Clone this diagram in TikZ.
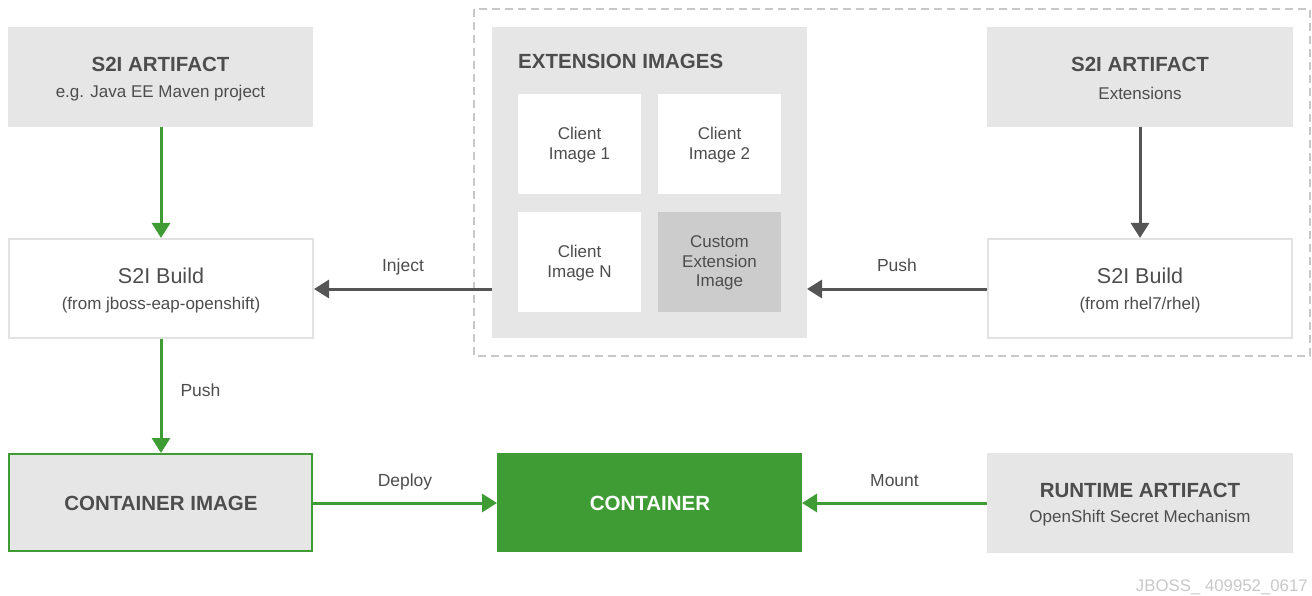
\documentclass[tikz,border=0pt]{standalone}
\usepackage{fontspec}
\setmainfont{Liberation Sans}
\usetikzlibrary{arrows.meta}
\definecolor{rhgreen}{HTML}{3F9C35}
\definecolor{boxgrey}{HTML}{E6E6E6}
\definecolor{edgegrey}{HTML}{E2E2E2}
\definecolor{txtgrey}{HTML}{4D4D4D}
\definecolor{arrgrey}{HTML}{555555}
\definecolor{customgrey}{HTML}{CCCCCC}
\definecolor{dashgrey}{HTML}{C8C8C8}
\tikzset{
  x=1pt, y=-1pt,
  every node/.style={text=txtgrey, font=\fontsize{17}{19.5}\selectfont, align=center, inner sep=0pt},
  greybox/.style={fill=boxgrey},
  whitebox/.style={fill=white, draw=edgegrey, line width=2pt},
  title/.style={font=\bfseries\fontsize{20.5}{24}\selectfont},
  buildt/.style={font=\fontsize{21.5}{25}\selectfont},
  garrow/.style={draw=rhgreen, line width=3pt, -{Triangle[width=18pt,length=15pt]}},
  darrow/.style={draw=arrgrey, line width=3pt, -{Triangle[width=18pt,length=15pt]}},
  lbl/.style={font=\fontsize{17.5}{20}\selectfont, anchor=base},
}
\begin{document}
\begin{tikzpicture}
\useasboundingbox (0,0) rectangle (1312,596);
% dashed group
\draw[dashgrey, line width=2pt, dash pattern=on 8pt off 5pt] (474,9) rectangle (1310,356);
% boxes
\fill[greybox] (8,27) rectangle (313,127);
\node[title] (a1t) at (160.5,64) {S2I ARTIFACT};
\node (a1s) at (160.5,93) {e.g. Java EE Maven project};
\coordinate (a1b) at (161,127);

\draw[whitebox] (9,239) rectangle (313,338);
\node[buildt] (b1t) at (161,276) {S2I Build};
\node (b1s) at (161,305) {(from jboss-eap-openshift)};
\coordinate (b1top) at (161,238);
\coordinate (b1bot) at (161,339);
\coordinate (b1r) at (314,289);

\draw[fill=boxgrey, draw=rhgreen, line width=2pt] (9,454) rectangle (312,551);
\node[title] (ci) at (161,503) {CONTAINER IMAGE};
\coordinate (cit) at (161,453);
\coordinate (cir) at (313,503);

\fill[rhgreen] (497,453) rectangle (802,552);
\node[title, text=white] (ct) at (650,503) {CONTAINER};
\coordinate (ctl) at (497,503);
\coordinate (ctr) at (802,503);

\fill[greybox] (987,453) rectangle (1293,553);
\node[title] (rt) at (1140,490) {RUNTIME ARTIFACT};
\node (rs) at (1140,518) {OpenShift Secret Mechanism};
\coordinate (rl) at (987,503);

\fill[greybox] (987,27) rectangle (1293,127);
\node[title] (a2t) at (1140,64) {S2I ARTIFACT};
\node (a2s) at (1140,93) {Extensions};
\coordinate (a2b) at (1140,127);

\draw[whitebox] (988,239) rectangle (1292,338);
\node[buildt] (b2t) at (1140,276) {S2I Build};
\node (b2s) at (1140,305) {(from rhel7/rhel)};
\coordinate (b2top) at (1140,238);
\coordinate (b2l) at (987,289);

% extension images
\fill[greybox] (492,27) rectangle (807,338);
\node[title, anchor=west] (et) at (518,61) {EXTENSION IMAGES};
\coordinate (el) at (492,289);
\coordinate (er) at (807,289);
\fill[white] (518,94) rectangle (641,194);
\node (c1) at (579.5,145) {Client\\Image 1};
\fill[white] (658,94) rectangle (781,194);
\node (c2) at (719.5,145) {Client\\Image 2};
\fill[white] (518,212) rectangle (641,312);
\node (cn) at (579.5,263) {Client\\Image N};
\fill[customgrey] (658,212) rectangle (781,312);
\node (cx) at (719.5,263) {Custom\\Extension\\Image};

% arrows
\draw[garrow] (a1b) -- (b1top);
\draw[garrow] (b1bot) -- (cit) node[lbl, pos=0.45, anchor=west, xshift=18pt] (pushl) {Push};
\draw[garrow] (cir) -- (ctl) node[lbl, midway, yshift=17pt] (dep) {Deploy};
\draw[garrow] (rl) -- (ctr) node[lbl, midway, yshift=17pt] (mnt) {Mount};
\draw[darrow] (el) -- (b1r) node[lbl, midway, yshift=17pt] (inj) {Inject};
\draw[darrow] (b2l) -- (er) node[lbl, midway, yshift=17pt] (push2) {Push};
\draw[darrow] (a2b) -- (b2top);

\node[anchor=east, text=dashgrey, font=\fontsize{16.8}{20}\selectfont] (wm) at (1308,587) {JBOSS\_ 409952\_0617};
\end{tikzpicture}
\end{document}
